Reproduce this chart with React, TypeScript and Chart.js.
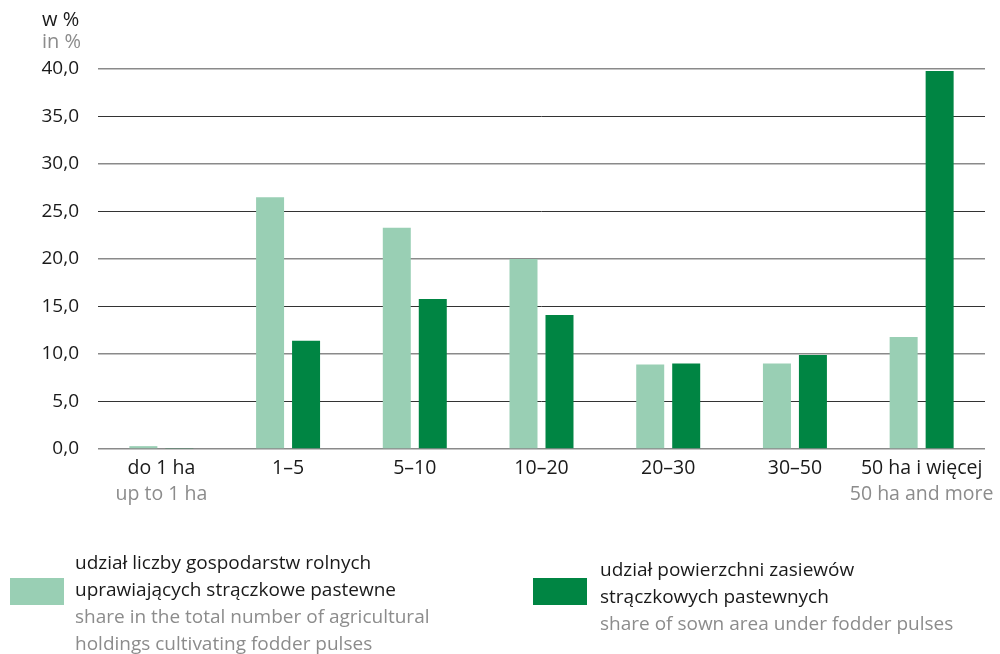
import React, { useEffect, useRef } from "react";
import { Chart, registerables } from "chart.js";

Chart.register(...registerables);

const categoriesPl = ["do 1 ha", "1–5", "5–10", "10–20", "20–30", "30–50", "50 ha i więcej"];
const categoriesEn = ["up to 1 ha", "", "", "", "", "", "50 ha and more"];
const holdingsShare = [0.3, 26.5, 23.3, 20.0, 8.9, 9.0, 11.8];
const areaShare = [0.1, 11.4, 15.8, 14.1, 9.0, 9.9, 39.8];
const yMin = 0;
const yMax = 40;
const yStep = 5;
const unitPl = "w %";
const unitEn = "in %";
const series1Pl = ["udział liczby gospodarstw rolnych", "uprawiających strączkowe pastewne"];
const series1En = ["share in the total number of agricultural", "holdings cultivating fodder pulses"];
const series2Pl = ["udział powierzchni zasiewów", "strączkowych pastewnych"];
const series2En = ["share of sown area under fodder pulses"];

const LIGHT = "#99cfb4";
const DARK = "#008543";
const TEXT = "#1a1a1a";
const GREY = "#8c8c8c";
const FONT = "'Open Sans', sans-serif";

const labelsPlugin = {
  id: "customLabels",
  afterDraw(chart: any) {
    const ctx = chart.ctx;
    const x = chart.scales.x;
    ctx.save();
    ctx.font = `19.5px ${FONT}`;
    ctx.textAlign = "center";
    ctx.textBaseline = "middle";
    categoriesPl.forEach((c, i) => {
      const px = x.getPixelForValue(i);
      ctx.fillStyle = TEXT;
      ctx.fillText(c, px, 468);
      if (categoriesEn[i]) {
        ctx.fillStyle = GREY;
        ctx.fillText(categoriesEn[i], px, 494);
      }
    });
    ctx.font = `20px ${FONT}`;
    ctx.textAlign = "left";
    ctx.fillStyle = TEXT;
    ctx.fillText(unitPl, 42, 20);
    ctx.fillStyle = GREY;
    ctx.fillText(unitEn, 42, 42);
    ctx.restore();
  },
};

function App() {
  const ref = useRef<HTMLCanvasElement | null>(null);
  useEffect(() => {
    if (!ref.current) return;
    const chart = new Chart(ref.current, {
      type: "bar",
      data: {
        labels: categoriesPl,
        datasets: [
          {
            label: series1Pl.join(" "),
            data: holdingsShare,
            backgroundColor: LIGHT,
            categoryPercentage: 0.568,
            barPercentage: 0.778,
          },
          {
            label: series2Pl.join(" "),
            data: areaShare,
            backgroundColor: DARK,
            categoryPercentage: 0.568,
            barPercentage: 0.778,
          },
        ],
      },
      options: {
        responsive: false,
        animation: false,
        layout: { padding: { left: 0, right: 15, top: 69, bottom: 205 } },
        plugins: { legend: { display: false }, tooltip: { enabled: false } },
        scales: {
          x: {
            grid: { display: false },
            border: { display: false },
            ticks: { display: false },
            afterFit: (s: any) => {
              s.height = 0;
            },
          },
          y: {
            min: yMin,
            max: yMax,
            border: { display: false },
            grid: {
              drawTicks: false,
              color: (c: any) => (c.tick && c.tick.value % 10 === 0 ? "#8a8a8a" : "#333333"),
              lineWidth: (c: any) => (c.tick && c.tick.value % 10 === 0 ? 1.5 : 1),
            },
            ticks: {
              stepSize: yStep,
              padding: 19,
              color: TEXT,
              font: { family: FONT, size: 19 },
              callback: (v: any) => Number(v).toFixed(1).replace(".", ","),
            },
            afterFit: (s: any) => {
              s.width = 98;
            },
          },
        },
      },
      plugins: [labelsPlugin],
    });
    return () => chart.destroy();
  }, []);

  const legendText: React.CSSProperties = {
    fontFamily: FONT,
    fontSize: 19,
    lineHeight: "27px",
    whiteSpace: "nowrap",
  };

  return (
    <div style={{ position: "fixed", left: 0, top: 0, width: 1000, height: 654, background: "#fff", overflow: "hidden" }}>
      <canvas ref={ref} width={1000} height={654} style={{ position: "absolute", left: 0, top: 0 }} />
      <div style={{ position: "absolute", left: 10, top: 578, width: 54, height: 27, background: LIGHT }} />
      <div style={{ ...legendText, position: "absolute", left: 75, top: 549 }}>
        {series1Pl.map((t, i) => (
          <div key={"a" + i} style={{ color: TEXT }}>{t}</div>
        ))}
        {series1En.map((t, i) => (
          <div key={"b" + i} style={{ color: GREY }}>{t}</div>
        ))}
      </div>
      <div style={{ position: "absolute", left: 533, top: 578, width: 54, height: 27, background: DARK }} />
      <div style={{ ...legendText, position: "absolute", left: 600, top: 556 }}>
        {series2Pl.map((t, i) => (
          <div key={"c" + i} style={{ color: TEXT }}>{t}</div>
        ))}
        {series2En.map((t, i) => (
          <div key={"d" + i} style={{ color: GREY }}>{t}</div>
        ))}
      </div>
    </div>
  );
}

export default App;
